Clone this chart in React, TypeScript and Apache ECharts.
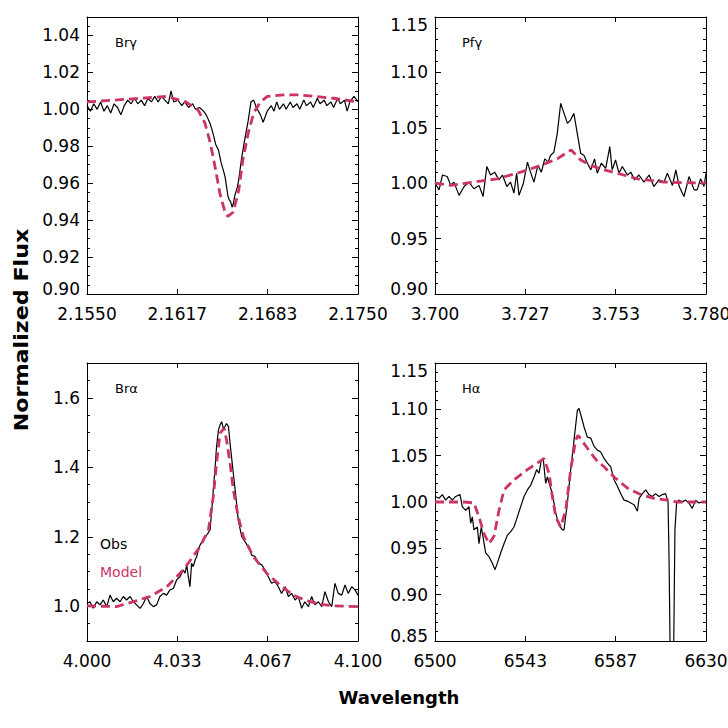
import React, { useEffect, useRef } from "react";
import * as echarts from "echarts";

const FONT = "DejaVu Sans";
const MODEL_COLOR = "#cc3366";

// ---------- Panel 1: Br gamma ----------
const brgObs: [number, number][] = [
  [2.155, 1.002], [2.15525, 0.999], [2.1555, 1.003], [2.15575, 1.0], [2.156, 1.004], [2.15625, 0.999],
  [2.1565, 1.002], [2.15675, 0.998], [2.157, 1.003], [2.15725, 1.001], [2.1575, 0.997], [2.15775, 1.002],
  [2.158, 1.005], [2.15825, 1.003], [2.1585, 1.006], [2.15875, 1.003], [2.159, 1.005], [2.15925, 1.002],
  [2.1595, 1.006], [2.15975, 1.004], [2.16, 1.007], [2.16025, 1.004], [2.1605, 1.007], [2.16075, 1.005],
  [2.161, 1.003], [2.1612, 1.01], [2.1614, 1.004], [2.1617, 1.005], [2.162, 1.002], [2.1622, 1.004],
  [2.1625, 1.001], [2.1628, 1.003], [2.163, 1.0], [2.1633, 1.001], [2.1636, 0.999], [2.1638, 0.997],
  [2.1641, 0.992], [2.1643, 0.987], [2.1645, 0.981], [2.1647, 0.978], [2.1649, 0.971], [2.1651, 0.966],
  [2.1652, 0.963], [2.1654, 0.953], [2.1655, 0.951], [2.1656, 0.95], [2.1657, 0.947], [2.1658, 0.949],
  [2.1659, 0.953], [2.1661, 0.958], [2.1662, 0.962], [2.1664, 0.973], [2.1666, 0.982], [2.1668, 0.99],
  [2.1669, 0.994], [2.1671, 1.004], [2.1673, 1.005], [2.1675, 1.001], [2.1678, 0.997], [2.168, 0.993],
  [2.1683, 0.999], [2.1686, 1.002], [2.1688, 0.999], [2.169, 1.004], [2.1692, 1.0], [2.1695, 1.003],
  [2.1697, 1.0], [2.17, 1.004], [2.1702, 1.001], [2.1705, 1.003], [2.1707, 1.0], [2.171, 1.005],
  [2.1712, 1.002], [2.1715, 1.004], [2.1717, 1.001], [2.172, 1.006], [2.1722, 1.003], [2.1725, 1.005],
  [2.1727, 1.002], [2.173, 1.004], [2.1732, 1.001], [2.1735, 1.006], [2.1737, 1.003], [2.174, 1.005],
  [2.1742, 0.999], [2.1744, 1.004], [2.1747, 1.007], [2.175, 1.004],
];
const brgModel: [number, number][] = [
  [2.155, 1.004], [2.157, 1.005], [2.159, 1.006], [2.1609, 1.007], [2.1623, 1.004], [2.1632, 0.9996],
  [2.1637, 0.9926], [2.1641, 0.9818], [2.1645, 0.967], [2.1648, 0.9547], [2.1652, 0.9439], [2.1654, 0.942],
  [2.1658, 0.9444], [2.1662, 0.9563], [2.1665, 0.9726], [2.1669, 0.9872], [2.1673, 0.998], [2.1678, 1.004],
  [2.1683, 1.007], [2.1695, 1.0078], [2.1707, 1.0078], [2.1732, 1.006], [2.175, 1.004],
];

// ---------- Panel 2: Pf gamma ----------
const pfgObs: [number, number][] = [
  [3.7, 1.0], [3.7012, 0.994], [3.7022, 1.0074], [3.7036, 1.006], [3.7046, 0.9985], [3.7056, 1.001],
  [3.7071, 0.989], [3.7086, 0.997], [3.71, 1.001], [3.7115, 0.995], [3.713, 0.998], [3.7142, 0.988],
  [3.7153, 1.015], [3.7164, 1.0074], [3.7176, 1.01], [3.7189, 1.003], [3.7199, 1.0074], [3.7212, 0.997],
  [3.7223, 1.001], [3.7233, 0.991], [3.7241, 1.009], [3.7248, 0.989], [3.7261, 1.0], [3.7273, 1.019],
  [3.7282, 1.01], [3.7292, 1.001], [3.7304, 1.016], [3.7314, 1.01], [3.7324, 1.022], [3.7334, 1.019],
  [3.7341, 1.025], [3.7351, 1.028], [3.7361, 1.045], [3.7371, 1.072], [3.7381, 1.063], [3.7391, 1.054],
  [3.74, 1.057], [3.741, 1.063], [3.742, 1.045], [3.743, 1.027], [3.744, 1.025], [3.745, 1.018],
  [3.746, 1.012], [3.7471, 1.022], [3.7479, 1.009], [3.7491, 1.018], [3.7504, 1.0134], [3.7516, 1.033],
  [3.7523, 1.012], [3.7533, 1.021], [3.7543, 1.009], [3.7553, 1.015], [3.7568, 1.0074], [3.7578, 1.01],
  [3.7589, 1.003], [3.7602, 1.0074], [3.7617, 1.001], [3.7632, 1.0074], [3.7646, 0.997], [3.7661, 1.003],
  [3.7676, 1.001], [3.7686, 1.009], [3.7701, 0.998], [3.7711, 1.012], [3.7721, 0.997], [3.7735, 0.988],
  [3.775, 1.006], [3.7765, 0.994], [3.7774, 0.994], [3.7784, 1.004], [3.7794, 0.997], [3.78, 1.009],
];
const pfgModel: [number, number][] = [
  [3.7, 1.0], [3.7046, 0.998], [3.7115, 1.001], [3.7184, 1.004], [3.7253, 1.01], [3.7312, 1.016],
  [3.7361, 1.022], [3.7391, 1.028], [3.7402, 1.03], [3.743, 1.021], [3.746, 1.016], [3.7499, 1.012],
  [3.7538, 1.009], [3.7597, 1.004], [3.7676, 1.001], [3.78, 1.0],
];

// ---------- Panel 3: Br alpha ----------
const braObs: [number, number][] = [
  [4.0, 1.008], [4.0011, 1.013], [4.0023, 0.994], [4.0036, 1.013], [4.0048, 1.004], [4.006, 1.018],
  [4.0073, 0.999], [4.0085, 1.032], [4.0097, 1.013], [4.0109, 1.023], [4.0122, 1.013], [4.0134, 1.028],
  [4.0146, 1.018], [4.0159, 1.028], [4.0171, 1.013], [4.0183, 1.004], [4.0196, 0.994], [4.0208, 1.008],
  [4.022, 1.028], [4.0232, 1.008], [4.0245, 0.999], [4.0257, 1.004], [4.0269, 1.028], [4.0282, 1.037],
  [4.0294, 1.032], [4.0306, 1.047], [4.0319, 1.052], [4.0331, 1.076], [4.0343, 1.085], [4.0355, 1.104],
  [4.0362, 1.095], [4.0368, 1.119], [4.0374, 1.085], [4.038, 1.056], [4.0386, 1.124], [4.0392, 1.114],
  [4.0399, 1.133], [4.0405, 1.143], [4.0411, 1.162], [4.0417, 1.176], [4.0429, 1.191], [4.0442, 1.205],
  [4.0454, 1.219], [4.046, 1.272], [4.0466, 1.335], [4.0472, 1.392], [4.0478, 1.459], [4.0485, 1.507],
  [4.0491, 1.522], [4.0497, 1.531], [4.0503, 1.512], [4.0509, 1.517], [4.0515, 1.526], [4.0522, 1.517],
  [4.0528, 1.468], [4.054, 1.382], [4.0552, 1.296], [4.0558, 1.248], [4.0571, 1.2], [4.0583, 1.186],
  [4.0595, 1.171], [4.0608, 1.147], [4.062, 1.143], [4.0632, 1.124], [4.0645, 1.119], [4.0657, 1.104],
  [4.0669, 1.085], [4.0681, 1.066], [4.0694, 1.071], [4.0706, 1.056], [4.0718, 1.037], [4.0731, 1.056],
  [4.0743, 1.028], [4.0755, 1.037], [4.0768, 1.018], [4.078, 1.028], [4.0792, 0.994], [4.0804, 1.013],
  [4.0817, 0.999], [4.0829, 1.028], [4.0841, 1.004], [4.0854, 1.013], [4.0866, 0.999], [4.0878, 1.042],
  [4.0891, 1.013], [4.0903, 0.999], [4.0915, 1.066], [4.0927, 1.037], [4.094, 1.032], [4.0952, 1.061],
  [4.0964, 1.037], [4.0977, 1.056], [4.0989, 1.047], [4.1, 1.032],
];
const braModel: [number, number][] = [
  [4.0, 1.001], [4.0109, 0.999], [4.0171, 1.013], [4.0232, 1.028], [4.0294, 1.056], [4.0355, 1.104],
  [4.0417, 1.171], [4.0448, 1.219], [4.0466, 1.315], [4.0478, 1.411], [4.0491, 1.498], [4.0506, 1.512],
  [4.0515, 1.478], [4.0528, 1.411], [4.054, 1.335], [4.0558, 1.258], [4.0577, 1.2], [4.0614, 1.143],
  [4.0663, 1.095], [4.0712, 1.061], [4.0761, 1.032], [4.081, 1.016], [4.086, 1.006], [4.0909, 1.001],
  [4.1, 0.999],
];

// ---------- Panel 4: H alpha ----------
const haObs: [number, number][] = [
  [6500, 1.006], [6501.9, 1.004], [6503.5, 1.008], [6505.1, 1.002], [6506.7, 1.006], [6508.3, 1.002],
  [6509.9, 1.006], [6512, 1.008], [6513.1, 0.995], [6514.7, 0.991], [6516.3, 0.995], [6517.1, 0.977],
  [6517.9, 0.984], [6518.7, 0.97], [6520.3, 0.973], [6521.1, 0.955], [6522.2, 0.973], [6523, 0.963],
  [6524.3, 0.945], [6525.9, 0.941], [6527.5, 0.934], [6528.8, 0.927], [6529.9, 0.934], [6531.5, 0.945],
  [6533.1, 0.955], [6534.7, 0.964], [6536.3, 0.968], [6537.9, 0.973], [6539.5, 0.984], [6541.1, 0.995],
  [6542.7, 1.006], [6544.3, 1.013], [6545.9, 1.018], [6547.5, 1.027], [6548.8, 1.035], [6549.9, 1.031],
  [6551, 1.045], [6552, 1.045], [6553.1, 1.02], [6553.9, 1.027], [6554.8, 1.02], [6556.3, 1.009],
  [6557.9, 0.988], [6559.5, 0.975], [6561.1, 0.97], [6561.9, 0.97], [6563.5, 0.999], [6565.1, 1.035],
  [6566.7, 1.067], [6568.3, 1.099], [6569.1, 1.101], [6570.2, 1.092], [6571.5, 1.081], [6573.1, 1.07],
  [6574.7, 1.069], [6576.3, 1.06], [6577.9, 1.056], [6579.5, 1.054], [6581.1, 1.047], [6582.7, 1.042],
  [6584.3, 1.038], [6585.9, 1.024], [6587.5, 1.017], [6589.1, 1.009], [6590.7, 1.002], [6592.3, 1.001],
  [6593.9, 0.999], [6595.5, 0.997], [6597.1, 0.99], [6597.9, 1.004], [6599.5, 1.009], [6601.1, 1.013],
  [6602.6, 1.008], [6604.3, 1.006], [6605.8, 1.009], [6607.5, 1.006], [6609.1, 1.008], [6610.6, 1.009],
  [6611.8, 1.0], [6612.3, 0.934], [6613, 0.8], [6614.3, 0.8], [6615.1, 0.97], [6615.9, 0.999],
  [6617, 1.002], [6618.6, 1.0], [6620.2, 1.002], [6621.8, 0.999], [6623.4, 0.993], [6625, 1.002],
  [6626.6, 0.999], [6628.2, 1.0], [6630, 1.0],
];
const haModel: [number, number][] = [
  [6500, 1.0], [6507.5, 1.0], [6513.9, 1.0], [6518.7, 0.999], [6521.1, 0.984], [6523.5, 0.966],
  [6525.9, 0.955], [6528.3, 0.963], [6530.7, 0.991], [6533.1, 1.013], [6537.9, 1.024], [6544.3, 1.035],
  [6549.1, 1.042], [6552.3, 1.047], [6554.7, 1.031], [6556.3, 1.006], [6557.9, 0.984], [6560.3, 0.973],
  [6562.7, 0.991], [6565.1, 1.035], [6567.5, 1.067], [6568.6, 1.072], [6571.5, 1.063], [6574.7, 1.053],
  [6577.9, 1.044], [6581.1, 1.038], [6585.9, 1.027], [6592.3, 1.015], [6598.7, 1.008], [6605, 1.004],
  [6611.4, 1.002], [6616.2, 1.0], [6630, 1.0],
];

// ---------- Axes: ranges, ticks, labels ----------
const panelNames = ["Br\u03b3", "Pf\u03b3", "Br\u03b1", "H\u03b1"];
const xRanges: [number, number][] = [[2.155, 2.175], [3.7, 3.78], [4.0, 4.1], [6500, 6630]];
const xTickValues = [
  [2.155, 2.1616667, 2.1683333, 2.175],
  [3.7, 3.7266667, 3.7533333, 3.78],
  [4.0, 4.0333333, 4.0666667, 4.1],
  [6500, 6543.3333, 6586.6667, 6630],
];
const xTickLabels = [
  ["2.1550", "2.1617", "2.1683", "2.1750"],
  ["3.700", "3.727", "3.753", "3.780"],
  ["4.000", "4.033", "4.067", "4.100"],
  ["6500", "6543", "6587", "6630"],
];
const yRanges: [number, number][] = [[0.9, 1.05], [0.9, 1.15], [0.9, 1.7], [0.85, 1.15]];
const yTickValues = [
  [0.9, 0.92, 0.94, 0.96, 0.98, 1.0, 1.02, 1.04],
  [0.9, 0.95, 1.0, 1.05, 1.1, 1.15],
  [1.0, 1.2, 1.4, 1.6],
  [0.85, 0.9, 0.95, 1.0, 1.05, 1.1, 1.15],
];
const yTickLabels = [
  ["0.90", "0.92", "0.94", "0.96", "0.98", "1.00", "1.02", "1.04"],
  ["0.90", "0.95", "1.00", "1.05", "1.10", "1.15"],
  ["1.0", "1.2", "1.4", "1.6"],
  ["0.85", "0.90", "0.95", "1.00", "1.05", "1.10", "1.15"],
];
const yMinorSteps = [0.005, 0.01, 0.05, 0.01];

const obsSeries = [brgObs, pfgObs, braObs, haObs];
const modelSeries = [brgModel, pfgModel, braModel, haModel];

// layout
const GRID_BOXES = [
  { left: 87, top: 17, width: 271, height: 277 },
  { left: 435, top: 17, width: 271, height: 277 },
  { left: 87, top: 363, width: 271, height: 278 },
  { left: 435, top: 363, width: 271, height: 278 },
];
const NAME_POS = [[115, 42], [462, 42], [115, 388], [462, 388]];

function findIdx(values: number[], v: number) {
  for (let i = 0; i < values.length; i++) if (Math.abs(values[i] - v) < 1e-6 * Math.max(1, Math.abs(v))) return i;
  return -1;
}

function minorTicks(range: [number, number], step: number, majors: number[]) {
  const out: number[] = [];
  const n = Math.round((range[1] - range[0]) / step);
  for (let k = 0; k <= n; k++) {
    const v = +(range[0] + k * step).toFixed(6);
    if (findIdx(majors, v) < 0) out.push(v);
  }
  return out;
}

const labelStyle = { fontSize: 17, fontFamily: FONT, color: "#000" };

function buildOption() {
  const grid: any[] = [];
  const xAxis: any[] = [];
  const yAxis: any[] = [];
  const series: any[] = [];
  const graphic: any[] = [];
  for (let g = 0; g < 4; g++) {
    grid.push({ ...GRID_BOXES[g], containLabel: false, outerBoundsMode: "none", show: false });
    const [xmin, xmax] = xRanges[g];
    const [ymin, ymax] = yRanges[g];
    const line = { show: true, onZero: false, lineStyle: { color: "#000", width: 1 } };
    xAxis.push({
      type: "value", gridIndex: g, position: "bottom", min: xmin, max: xmax,
      axisLine: line,
      axisTick: { show: true, inside: true, length: 5, customValues: xTickValues[g], lineStyle: { color: "#000" } },
      axisLabel: {
        show: true, customValues: xTickValues[g], margin: 11, ...labelStyle,
        formatter: (v: number) => { const i = findIdx(xTickValues[g], v); return i >= 0 ? xTickLabels[g][i] : ""; },
      },
      splitLine: { show: false },
    });
    xAxis.push({
      type: "value", gridIndex: g, position: "top", min: xmin, max: xmax,
      axisLine: line,
      axisTick: { show: true, inside: true, length: 5, customValues: xTickValues[g], lineStyle: { color: "#000" } },
      axisLabel: { show: false },
      splitLine: { show: false },
    });
    const minors = minorTicks(yRanges[g], yMinorSteps[g], yTickValues[g]);
    const mkY = (pos: string, withLine: boolean, ticks: number[], len: number, labels: boolean) => ({
      type: "value", gridIndex: g, position: pos, min: ymin, max: ymax,
      axisLine: withLine ? line : { show: false },
      axisTick: { show: true, inside: true, length: len, customValues: ticks, lineStyle: { color: "#000" } },
      axisLabel: labels
        ? {
            show: true, customValues: yTickValues[g], margin: 7, ...labelStyle,
            formatter: (v: number) => {
              const i = findIdx(yTickValues[g], v);
              if (i < 0) return "";
              const s = yTickLabels[g][i];
              if (Math.abs(v - ymax) < 1e-9) return `{t|${s}}`;
              if (Math.abs(v - ymin) < 1e-9) return `{b|${s}}`;
              return s;
            },
            rich: {
              t: { ...labelStyle, padding: [16, 0, 0, 0] },
              b: { ...labelStyle, padding: [0, 0, 10, 0] },
            },
          }
        : { show: false },
      splitLine: { show: false },
    });
    yAxis.push(mkY("left", true, yTickValues[g], 6, true));
    yAxis.push(mkY("left", false, minors, 3, false));
    yAxis.push(mkY("right", true, yTickValues[g], 6, false));
    yAxis.push(mkY("right", false, minors, 3, false));

    series.push({
      type: "line", xAxisIndex: 2 * g, yAxisIndex: 4 * g, data: obsSeries[g], showSymbol: false, symbol: "none",
      lineStyle: { color: "#000", width: 1.2 }, clip: true, z: 2,
    });
    series.push({
      type: "line", xAxisIndex: 2 * g, yAxisIndex: 4 * g, data: modelSeries[g], showSymbol: false, symbol: "none",
      lineStyle: { color: MODEL_COLOR, width: 2.8, type: [9, 5] }, clip: true, z: 3,
    });

    graphic.push({
      type: "text", x: NAME_POS[g][0], y: NAME_POS[g][1],
      style: { text: panelNames[g], fontSize: 13, fontFamily: FONT, fill: "#000", align: "left", verticalAlign: "middle" },
    });
  }
  graphic.push({
    type: "text", x: 100, y: 544,
    style: { text: "Obs", fontSize: 14, fontFamily: FONT, fill: "#000", align: "left", verticalAlign: "middle" },
  });
  graphic.push({
    type: "text", x: 100, y: 572,
    style: { text: "Model", fontSize: 14, fontFamily: FONT, fill: MODEL_COLOR, align: "left", verticalAlign: "middle" },
  });
  graphic.push({
    type: "text", x: 399, y: 697,
    style: { text: "Wavelength", fontSize: 18, fontWeight: "bold", fontFamily: FONT, fill: "#000", align: "center", verticalAlign: "middle" },
  });
  graphic.push({
    type: "text", x: 22, y: 330, rotation: Math.PI / 2, scaleX: 1.17,
    style: { text: "Normalized Flux", fontSize: 19, fontWeight: "bold", fontFamily: FONT, fill: "#000", align: "center", verticalAlign: "middle" },
  });

  return {
    animation: false,
    backgroundColor: "#fff",
    textStyle: { fontFamily: FONT },
    grid, xAxis, yAxis, series, graphic,
  };
}

export default function App() {
  const ref = useRef<HTMLDivElement>(null);
  useEffect(() => {
    if (!ref.current) return;
    const chart = echarts.init(ref.current, null, { renderer: "svg" });
    chart.setOption(buildOption() as any);
    return () => chart.dispose();
  }, []);
  return (
    <div
      ref={ref}
      style={{ position: "fixed", left: 0, top: 0, width: 728, height: 728, background: "#fff" }}
    />
  );
}
